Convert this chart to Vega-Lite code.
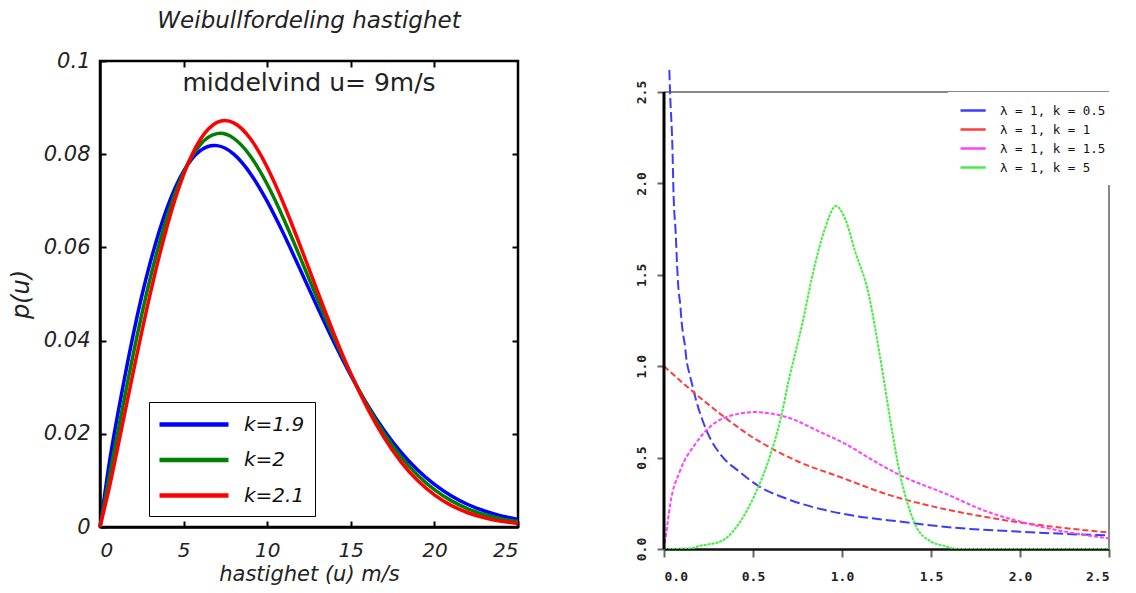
{
  "$schema": "https://vega.github.io/schema/vega-lite/v6.json",
  "background": "white",
  "padding": {"left": 7, "top": 8, "right": 0, "bottom": 0},
  "spacing": 107,
  "resolve": {"scale": {"color": "independent", "x": "independent", "y": "independent"}, "legend": {"color": "independent"}},
  "datasets": {
    "weibull": [
      {"u": 0, "k": "k=1.9", "p": 0}, {"u": 0.5, "k": "k=1.9", "p": 0.01244}, {"u": 1, "k": "k=1.9", "p": 0.023}, {"u": 2, "k": "k=1.9", "p": 0.04151}, {"u": 3, "k": "k=1.9", "p": 0.0567}, {"u": 4, "k": "k=1.9", "p": 0.06836}, {"u": 5, "k": "k=1.9", "p": 0.07637}, {"u": 6, "k": "k=1.9", "p": 0.08078}, {"u": 7, "k": "k=1.9", "p": 0.08184}, {"u": 8, "k": "k=1.9", "p": 0.08003}, {"u": 9, "k": "k=1.9", "p": 0.07583}, {"u": 10, "k": "k=1.9", "p": 0.06987}, {"u": 11, "k": "k=1.9", "p": 0.06275}, {"u": 12, "k": "k=1.9", "p": 0.05503}, {"u": 13, "k": "k=1.9", "p": 0.04718}, {"u": 14, "k": "k=1.9", "p": 0.03957}, {"u": 15, "k": "k=1.9", "p": 0.03251}, {"u": 16, "k": "k=1.9", "p": 0.02619}, {"u": 17, "k": "k=1.9", "p": 0.0207}, {"u": 18, "k": "k=1.9", "p": 0.01604}, {"u": 19, "k": "k=1.9", "p": 0.01221}, {"u": 20, "k": "k=1.9", "p": 0.00913}, {"u": 21, "k": "k=1.9", "p": 0.0067}, {"u": 22, "k": "k=1.9", "p": 0.00483}, {"u": 23, "k": "k=1.9", "p": 0.00343}, {"u": 24, "k": "k=1.9", "p": 0.00239}, {"u": 25, "k": "k=1.9", "p": 0.00164},
      {"u": 0, "k": "k=2", "p": 0}, {"u": 0.5, "k": "k=2", "p": 0.0097}, {"u": 1, "k": "k=2", "p": 0.01921}, {"u": 2, "k": "k=2", "p": 0.03731}, {"u": 3, "k": "k=2", "p": 0.05332}, {"u": 4, "k": "k=2", "p": 0.06643}, {"u": 5, "k": "k=2", "p": 0.0761}, {"u": 6, "k": "k=2", "p": 0.08208}, {"u": 7, "k": "k=2", "p": 0.08442}, {"u": 8, "k": "k=2", "p": 0.08341}, {"u": 9, "k": "k=2", "p": 0.07958}, {"u": 10, "k": "k=2", "p": 0.07354}, {"u": 11, "k": "k=2", "p": 0.06599}, {"u": 12, "k": "k=2", "p": 0.0576}, {"u": 13, "k": "k=2", "p": 0.04896}, {"u": 14, "k": "k=2", "p": 0.04059}, {"u": 15, "k": "k=2", "p": 0.03283}, {"u": 16, "k": "k=2", "p": 0.02592}, {"u": 17, "k": "k=2", "p": 0.02}, {"u": 18, "k": "k=2", "p": 0.01508}, {"u": 19, "k": "k=2", "p": 0.01112}, {"u": 20, "k": "k=2", "p": 0.00802}, {"u": 21, "k": "k=2", "p": 0.00566}, {"u": 22, "k": "k=2", "p": 0.00391}, {"u": 23, "k": "k=2", "p": 0.00264}, {"u": 24, "k": "k=2", "p": 0.00175}, {"u": 25, "k": "k=2", "p": 0.00113},
      {"u": 0, "k": "k=2.1", "p": 0}, {"u": 0.5, "k": "k=2.1", "p": 0.00752}, {"u": 1, "k": "k=2.1", "p": 0.016}, {"u": 2, "k": "k=2.1", "p": 0.03344}, {"u": 3, "k": "k=2.1", "p": 0.04999}, {"u": 4, "k": "k=2.1", "p": 0.06434}, {"u": 5, "k": "k=2.1", "p": 0.07559}, {"u": 6, "k": "k=2.1", "p": 0.08316}, {"u": 7, "k": "k=2.1", "p": 0.08682}, {"u": 8, "k": "k=2.1", "p": 0.08673}, {"u": 9, "k": "k=2.1", "p": 0.08331}, {"u": 10, "k": "k=2.1", "p": 0.07721}, {"u": 11, "k": "k=2.1", "p": 0.06921}, {"u": 12, "k": "k=2.1", "p": 0.06012}, {"u": 13, "k": "k=2.1", "p": 0.05065}, {"u": 14, "k": "k=2.1", "p": 0.04141}, {"u": 15, "k": "k=2.1", "p": 0.03292}, {"u": 16, "k": "k=2.1", "p": 0.02545}, {"u": 17, "k": "k=2.1", "p": 0.01913}, {"u": 18, "k": "k=2.1", "p": 0.01398}, {"u": 19, "k": "k=2.1", "p": 0.00996}, {"u": 20, "k": "k=2.1", "p": 0.0069}, {"u": 21, "k": "k=2.1", "p": 0.00465}, {"u": 22, "k": "k=2.1", "p": 0.00306}, {"u": 23, "k": "k=2.1", "p": 0.00196}, {"u": 24, "k": "k=2.1", "p": 0.00122}, {"u": 25, "k": "k=2.1", "p": 0.00074}
    ],
    "pdf": [
      {"x": 0.03, "s": "λ = 1, k = 0.5", "y": 2.62}, {"x": 0.034, "s": "λ = 1, k = 0.5", "y": 2.5}, {"x": 0.047, "s": "λ = 1, k = 0.5", "y": 2.205}, {"x": 0.054, "s": "λ = 1, k = 0.5", "y": 1.931}, {"x": 0.066, "s": "λ = 1, k = 0.5", "y": 1.723}, {"x": 0.073, "s": "λ = 1, k = 0.5", "y": 1.565}, {"x": 0.08, "s": "λ = 1, k = 0.5", "y": 1.439}, {"x": 0.092, "s": "λ = 1, k = 0.5", "y": 1.329}, {"x": 0.099, "s": "λ = 1, k = 0.5", "y": 1.242}, {"x": 0.109, "s": "λ = 1, k = 0.5", "y": 1.165}, {"x": 0.118, "s": "λ = 1, k = 0.5", "y": 1.11}, {"x": 0.125, "s": "λ = 1, k = 0.5", "y": 1.045}, {"x": 0.142, "s": "λ = 1, k = 0.5", "y": 0.963}, {"x": 0.156, "s": "λ = 1, k = 0.5", "y": 0.908}, {"x": 0.174, "s": "λ = 1, k = 0.5", "y": 0.837}, {"x": 0.24, "s": "λ = 1, k = 0.5", "y": 0.646}, {"x": 0.324, "s": "λ = 1, k = 0.5", "y": 0.509}, {"x": 0.418, "s": "λ = 1, k = 0.5", "y": 0.427}, {"x": 0.53, "s": "λ = 1, k = 0.5", "y": 0.345}, {"x": 0.698, "s": "λ = 1, k = 0.5", "y": 0.272}, {"x": 0.886, "s": "λ = 1, k = 0.5", "y": 0.217}, {"x": 1.073, "s": "λ = 1, k = 0.5", "y": 0.181}, {"x": 1.335, "s": "λ = 1, k = 0.5", "y": 0.149}, {"x": 1.588, "s": "λ = 1, k = 0.5", "y": 0.12}, {"x": 2.0, "s": "λ = 1, k = 0.5", "y": 0.095}, {"x": 2.412, "s": "λ = 1, k = 0.5", "y": 0.077}, {"x": 2.5, "s": "λ = 1, k = 0.5", "y": 0.075},
      {"x": 0, "s": "λ = 1, k = 1", "y": 1.0}, {"x": 0.25, "s": "λ = 1, k = 1", "y": 0.79}, {"x": 0.5, "s": "λ = 1, k = 1", "y": 0.61}, {"x": 0.75, "s": "λ = 1, k = 1", "y": 0.48}, {"x": 1.0, "s": "λ = 1, k = 1", "y": 0.39}, {"x": 1.25, "s": "λ = 1, k = 1", "y": 0.3}, {"x": 1.5, "s": "λ = 1, k = 1", "y": 0.235}, {"x": 1.75, "s": "λ = 1, k = 1", "y": 0.185}, {"x": 2.0, "s": "λ = 1, k = 1", "y": 0.145}, {"x": 2.25, "s": "λ = 1, k = 1", "y": 0.115}, {"x": 2.5, "s": "λ = 1, k = 1", "y": 0.09},
      {"x": 0, "s": "λ = 1, k = 1.5", "y": 0}, {"x": 0.02, "s": "λ = 1, k = 1.5", "y": 0.14}, {"x": 0.035, "s": "λ = 1, k = 1.5", "y": 0.245}, {"x": 0.09, "s": "λ = 1, k = 1.5", "y": 0.427}, {"x": 0.175, "s": "λ = 1, k = 1.5", "y": 0.573}, {"x": 0.34, "s": "λ = 1, k = 1.5", "y": 0.718}, {"x": 0.51, "s": "λ = 1, k = 1.5", "y": 0.749}, {"x": 0.7, "s": "λ = 1, k = 1.5", "y": 0.718}, {"x": 0.886, "s": "λ = 1, k = 1.5", "y": 0.636}, {"x": 1.0, "s": "λ = 1, k = 1.5", "y": 0.585}, {"x": 1.2, "s": "λ = 1, k = 1.5", "y": 0.47}, {"x": 1.335, "s": "λ = 1, k = 1.5", "y": 0.4}, {"x": 1.588, "s": "λ = 1, k = 1.5", "y": 0.3}, {"x": 1.8, "s": "λ = 1, k = 1.5", "y": 0.21}, {"x": 2.0, "s": "λ = 1, k = 1.5", "y": 0.15}, {"x": 2.25, "s": "λ = 1, k = 1.5", "y": 0.095}, {"x": 2.5, "s": "λ = 1, k = 1.5", "y": 0.058},
      {"x": 0, "s": "λ = 1, k = 5", "y": 0}, {"x": 0.15, "s": "λ = 1, k = 5", "y": 0.004}, {"x": 0.193, "s": "λ = 1, k = 5", "y": 0.015}, {"x": 0.324, "s": "λ = 1, k = 5", "y": 0.044}, {"x": 0.418, "s": "λ = 1, k = 5", "y": 0.135}, {"x": 0.511, "s": "λ = 1, k = 5", "y": 0.299}, {"x": 0.586, "s": "λ = 1, k = 5", "y": 0.481}, {"x": 0.661, "s": "λ = 1, k = 5", "y": 0.737}, {"x": 0.698, "s": "λ = 1, k = 5", "y": 0.91}, {"x": 0.774, "s": "λ = 1, k = 5", "y": 1.22}, {"x": 0.848, "s": "λ = 1, k = 5", "y": 1.557}, {"x": 0.9, "s": "λ = 1, k = 5", "y": 1.74}, {"x": 0.966, "s": "λ = 1, k = 5", "y": 1.876}, {"x": 1.02, "s": "λ = 1, k = 5", "y": 1.8}, {"x": 1.073, "s": "λ = 1, k = 5", "y": 1.63}, {"x": 1.146, "s": "λ = 1, k = 5", "y": 1.41}, {"x": 1.213, "s": "λ = 1, k = 5", "y": 1.056}, {"x": 1.251, "s": "λ = 1, k = 5", "y": 0.828}, {"x": 1.288, "s": "λ = 1, k = 5", "y": 0.609}, {"x": 1.326, "s": "λ = 1, k = 5", "y": 0.409}, {"x": 1.364, "s": "λ = 1, k = 5", "y": 0.263}, {"x": 1.42, "s": "λ = 1, k = 5", "y": 0.117}, {"x": 1.494, "s": "λ = 1, k = 5", "y": 0.044}, {"x": 1.579, "s": "λ = 1, k = 5", "y": 0.016}, {"x": 1.65, "s": "λ = 1, k = 5", "y": 0}, {"x": 2.0, "s": "λ = 1, k = 5", "y": 0}, {"x": 2.5, "s": "λ = 1, k = 5", "y": 0}
    ]
  },
  "hconcat": [
    {
      "width": 418,
      "height": 466,
      "title": {"text": "Weibullfordeling hastighet", "font": "DejaVu Sans", "fontStyle": "italic", "fontWeight": "normal", "fontSize": 23, "color": "#222", "offset": 17},
      "view": {"stroke": "black", "strokeWidth": 2.5},
      "resolve": {"axis": {"x": "independent", "y": "independent"}},
      "layer": [
        {
          "data": {"name": "weibull"},
          "mark": {"type": "line", "strokeWidth": 3.5, "interpolate": "natural"},
          "encoding": {
            "x": {"field": "u", "type": "quantitative", "scale": {"domain": [0, 25], "nice": false},
              "axis": {"title": "hastighet (u) m/s", "values": [0, 5, 10, 15, 20, 25], "grid": false,
                "titleFont": "DejaVu Sans", "titleFontStyle": "italic", "titleFontWeight": "normal", "titleFontSize": 21, "titleColor": "#222", "titlePadding": 3,
                "labelFont": "DejaVu Sans", "labelFontStyle": "italic", "labelFontSize": 20, "labelColor": "#222", "labelPadding": 19,
                "domainColor": "black", "domainWidth": 2.5, "tickColor": "black", "tickWidth": 2, "tickSize": -6}},
            "y": {"field": "p", "type": "quantitative", "scale": {"domain": [0, 0.1], "nice": false},
              "axis": {"title": "p(u)", "values": [0, 0.02, 0.04, 0.06, 0.08, 0.1], "labelExpr": "format(datum.value, '~g')", "grid": false,
                "titleFont": "DejaVu Sans", "titleFontStyle": "italic", "titleFontWeight": "normal", "titleFontSize": 24, "titleColor": "#222", "titlePadding": 10,
                "labelFont": "DejaVu Sans", "labelFontStyle": "italic", "labelFontSize": 21, "labelColor": "#222", "labelPadding": 16,
                "domainColor": "black", "domainWidth": 2.5, "tickColor": "black", "tickWidth": 2, "tickSize": -6}},
            "color": {"field": "k", "type": "nominal",
              "scale": {"domain": ["k=1.9", "k=2", "k=2.1"], "range": ["#0000ff", "#007f00", "#ff0000"]},
              "legend": {"title": null, "orient": "none", "legendX": 49, "legendY": 341, "padding": 10,
                "fillColor": "white", "strokeColor": "black",
                "symbolType": "M-1.2,0H5.7", "symbolSize": 400, "symbolStrokeWidth": 4.5, "labelOffset": 60, "rowPadding": 12.5,
                "labelFont": "DejaVu Sans", "labelFontStyle": "italic", "labelFontSize": 20, "labelColor": "#111"}}
          }
        },
        {
          "data": {"values": [{"tx": 12.5, "ty": 0.0953, "label": "middelvind u= 9m/s"}]},
          "mark": {"type": "text", "font": "DejaVu Sans", "fontSize": 25, "color": "#222"},
          "encoding": {
            "x": {"field": "tx", "type": "quantitative",
              "axis": {"orient": "top", "title": null, "labels": false, "domain": false, "grid": false, "values": [5, 10, 15, 20], "tickColor": "black", "tickWidth": 2, "tickSize": -6}},
            "y": {"field": "ty", "type": "quantitative",
              "axis": {"orient": "right", "title": null, "labels": false, "domain": false, "grid": false, "values": [0.02, 0.04, 0.06, 0.08], "tickColor": "black", "tickWidth": 2, "tickSize": -6}},
            "text": {"field": "label", "type": "nominal"}
          }
        }
      ]
    },
    {
      "width": 445,
      "height": 488,
      "view": {"stroke": null},
      "encoding": {
        "x": {"field": "x", "type": "quantitative", "scale": {"domain": [0, 2.5], "nice": false},
          "axis": {"title": null, "values": [0, 0.5, 1, 1.5, 2, 2.5], "format": ".1f", "grid": false,
            "labelFont": "DejaVu Sans Mono", "labelFontWeight": "bold", "labelFontSize": 13, "labelColor": "#222", "labelPadding": 13,
            "domainColor": "#111", "domainWidth": 2.5, "tickColor": "#666", "tickWidth": 2, "tickSize": 8}},
        "y": {"field": "y", "type": "quantitative", "scale": {"domain": [0, 2.6696], "nice": false},
          "axis": {"title": null, "values": [0, 0.5, 1, 1.5, 2, 2.5], "format": ".1f", "grid": false, "domain": false,
            "labelFont": "DejaVu Sans Mono", "labelFontWeight": "bold", "labelFontSize": 13, "labelColor": "#222", "labelPadding": 9,
            "labelAngle": -90, "labelAlign": "center", "labelBaseline": "bottom",
            "tickColor": "#666", "tickWidth": 2, "tickSize": 7}}
      },
      "layer": [
        {
          "data": {"values": [{"x": 0, "y": 2.5, "xe": 2.5}]},
          "mark": {"type": "rule", "color": "#888", "strokeWidth": 2},
          "encoding": {"x2": {"field": "xe"}}
        },
        {
          "data": {"values": [{"x": 2.5, "y": 0, "ye": 2.5}]},
          "mark": {"type": "rule", "color": "#888", "strokeWidth": 2},
          "encoding": {"y2": {"field": "ye"}}
        },
        {
          "data": {"name": "pdf"},
          "encoding": {
            "color": {"field": "s", "type": "nominal",
              "scale": {"domain": ["λ = 1, k = 0.5", "λ = 1, k = 1", "λ = 1, k = 1.5", "λ = 1, k = 5"], "range": ["#3c3cff", "#ff3c3c", "#ff40ff", "#44ee44"]},
              "legend": {"title": null, "orient": "none", "legendX": 284, "legendY": 31, "padding": 11,
                "fillColor": "white",
                "symbolType": "M-1,0H3.2", "symbolSize": 144, "symbolStrokeWidth": 2.5, "labelOffset": 26, "rowPadding": 5,
                "labelFont": "DejaVu Sans Mono", "labelFontSize": 12.5, "labelColor": "#111"}}
          },
          "layer": [
            {"transform": [{"filter": {"field": "s", "equal": "λ = 1, k = 0.5"}}], "mark": {"type": "line", "clip": true, "strokeWidth": 2, "interpolate": "monotone", "strokeDash": [10, 4]}},
            {"transform": [{"filter": {"field": "s", "equal": "λ = 1, k = 1"}}], "mark": {"type": "line", "clip": true, "strokeWidth": 2, "interpolate": "monotone", "strokeDash": [6, 3]}},
            {"transform": [{"filter": {"field": "s", "equal": "λ = 1, k = 1.5"}}], "mark": {"type": "line", "clip": true, "strokeWidth": 2, "interpolate": "monotone", "strokeDash": [4, 2]}},
            {"transform": [{"filter": {"field": "s", "equal": "λ = 1, k = 5"}}], "mark": {"type": "line", "clip": true, "strokeWidth": 2, "interpolate": "monotone", "strokeDash": [3, 1]}}
          ]
        },
        {
          "data": {"values": [{"x": 0, "y": 0, "ye": 2.5}]},
          "mark": {"type": "rule", "color": "#000000", "strokeWidth": 3},
          "encoding": {"y2": {"field": "ye"}}
        }
      ]
    }
  ]
}
